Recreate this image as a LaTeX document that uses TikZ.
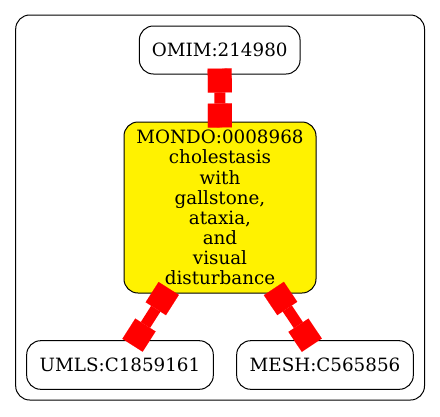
\documentclass[tikz,border=0pt]{standalone}
\usepackage{fontspec}
\setmainfont{DejaVu Serif}
\usetikzlibrary{arrows.meta}

\tikzset{
  term/.style={draw, line width=1pt, rounded corners=14pt, inner sep=0pt,
    font=\fontsize{18.3}{20.1}\selectfont, align=center},
  link/.style={draw=red, line width=11pt,
    {Square[length=24pt,width=24pt,line width=0.01pt]}-{Square[length=24pt,width=24pt,line width=0.01pt]},
    shorten <=-6pt, shorten >=-6pt}
}

\begin{document}
\begin{tikzpicture}[x=1pt,y=-1pt]
  \useasboundingbox (0,0) rectangle (440,416);
  \draw[line width=1pt, rounded corners=14pt] (15.7,15) rectangle (424.5,400);
  \node[term, minimum width=160.7pt, minimum height=48pt] (omim) at (219.7,50) {OMIM:214980};
  \node[term, fill=yellow, minimum width=192pt, minimum height=171pt] (mondo) at (220,207.5)
    {MONDO:0008968\\cholestasis\\with\\gallstone,\\ataxia,\\and\\visual\\disturbance};
  \node[term, minimum width=186.6pt, minimum height=48.6pt] (umls) at (120,365) {UMLS:C1859161};
  \node[term, minimum width=176.6pt, minimum height=48.6pt] (mesh) at (325,365) {MESH:C565856};
  \draw[link] (omim) -- (mondo);
  \draw[link] (mondo) -- (umls);
  \draw[link] (mondo) -- (mesh);
\end{tikzpicture}
\end{document}
